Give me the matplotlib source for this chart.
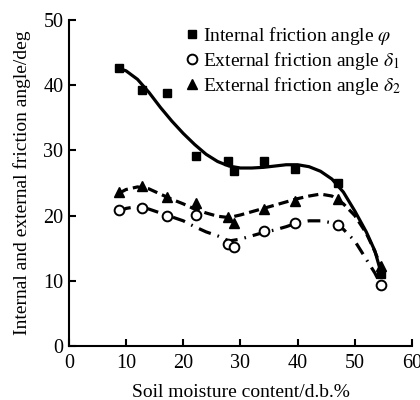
import matplotlib
matplotlib.use("Agg")
import matplotlib.pyplot as plt

plt.rcParams["font.family"] = ["Liberation Serif", "DejaVu Serif"]
plt.rcParams["mathtext.fontset"] = "stix"

# measured points
moisture = [8.7, 12.7, 17.2, 22.3, 27.8, 28.8, 34.2, 39.5, 47.0, 54.5]
phi = [42.6, 39.2, 38.8, 29.1, 28.3, 26.9, 28.3, 27.2, 25.0, 11.0]
delta1 = [20.8, 21.1, 20.0, 20.1, 15.7, 15.2, 17.7, 18.8, 18.6, 9.3]
delta2 = [23.6, 24.5, 22.8, 21.9, 19.8, 18.8, 21.0, 22.3, 22.5, 12.2]

# fitted curves
curve_x = [8.7, 10, 12, 14, 16, 18, 20, 22, 24, 26, 28, 30, 32, 34, 36, 38,
           40, 42, 44, 46, 48, 50, 52, 53.5, 54.5]
phi_fit = [42.6, 42.2, 40.9, 38.9, 36.6, 34.5, 32.6, 30.9, 29.4, 28.3, 27.6,
           27.3, 27.3, 27.4, 27.6, 27.8, 27.8, 27.5, 26.8, 25.6, 23.6, 20.7,
           17.5, 14.6, 11.5]
delta2_fit = [23.4, 24.0, 24.4, 24.1, 23.3, 22.5, 21.8, 21.0, 20.4, 19.9,
              19.7, 20.1, 20.6, 21.1, 21.6, 22.1, 22.6, 23.0, 23.3, 23.0,
              21.8, 20.0, 17.3, 14.5, 12.3]
delta1_fit = [20.6, 21.1, 21.4, 21.0, 20.4, 19.8, 19.2, 18.3, 17.5, 16.9,
              16.1, 16.4, 16.9, 17.4, 17.8, 18.3, 18.9, 19.2, 19.2, 18.9,
              17.9, 16.1, 13.3, 11.2, 9.5]

fig = plt.figure(figsize=(4.2, 4.0), dpi=100)
ax = fig.add_axes([0.164, 0.135, 0.817, 0.815])

ax.plot(curve_x, phi_fit, color="black", lw=2.3, ls="-")
ax.plot(curve_x, delta2_fit, color="black", lw=2.3, ls=(0, (3.2, 1.6)))
ax.plot(curve_x, delta1_fit, color="black", lw=2.3, ls=(0, (4, 2.2, 0.5, 2.2)))

ax.plot(moisture, phi, ls="none", marker="s", ms=6, color="black",
        label=r"Internal friction angle $\varphi$")
ax.plot(moisture, delta1, ls="none", marker="o", ms=7, mfc="white",
        mec="black", mew=1.4, label=r"External friction angle $\delta_1$")
ax.plot(moisture, delta2, ls="none", marker="^", ms=7, color="black",
        label=r"External friction angle $\delta_2$")

ax.set_xlim(0, 60)
ax.set_ylim(0, 50)
ax.set_xticks(range(0, 61, 10))
ax.set_yticks(range(0, 51, 10))
ax.spines["top"].set_visible(False)
ax.spines["right"].set_visible(False)
ax.spines["left"].set_linewidth(1.5)
ax.spines["bottom"].set_linewidth(1.5)
ax.tick_params(direction="in", length=5, width=1.5, labelsize=14.5, pad=4)
ax.tick_params(axis="x", pad=6)

ax.set_xlabel("Soil moisture content/d.b.%", fontsize=14, labelpad=8)
ax.set_ylabel("Internal and external friction angle/deg", fontsize=14,
              labelpad=9)

ax.legend(loc="upper left", bbox_to_anchor=(184 / 420, 1 - 25 / 400),
          bbox_transform=fig.transFigure, frameon=False, fontsize=14,
          handletextpad=0.2, handlelength=0.8, borderpad=0, borderaxespad=0,
          labelspacing=0.15)

fig.savefig("out.png", dpi=100)
